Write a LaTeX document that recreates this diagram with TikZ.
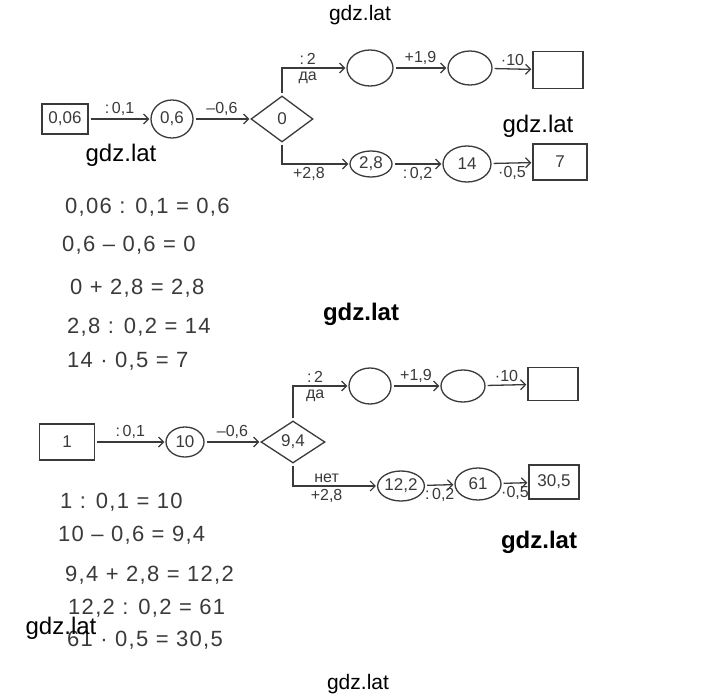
\documentclass[tikz,border=0pt]{standalone}
\usepackage{fontspec}
\setmainfont{Liberation Sans}
\usetikzlibrary{shapes.geometric,arrows.meta}
\definecolor{ink}{HTML}{3A3A3A}
\tikzset{
  ln/.style={draw=ink, line width=1.3pt},
  arr/.style={ln, -{Straight Barb[length=5pt,width=10pt,line width=1.2pt]}, shorten >=1pt, shorten <=2pt},
  boxn/.style={ln, rectangle, inner sep=0pt, text=ink, font=\fontsize{17}{17}\selectfont},
  ell/.style={ln, ellipse, inner sep=0pt, text=ink, font=\fontsize{17}{17}\selectfont},
  dia/.style={ln, diamond, inner sep=0pt, text=ink, font=\fontsize{17}{17}\selectfont},
  lab/.style={inner sep=3pt, text=ink, font=\fontsize{16}{16}\selectfont},
  calc/.style={anchor=west, inner sep=0pt, text=ink, font=\fontsize{22}{22}\selectfont\addfontfeature{LetterSpace=6}},
  wm/.style={inner sep=0pt, text=black, font=\fontsize{24}{24}\selectfont},
  wmb/.style={inner sep=0pt, text=black, font=\fontsize{24}{24}\selectfont\bfseries},
}
\begin{document}
\begin{tikzpicture}[x=1pt,y=-1pt]
\fill[white] (0,0) rectangle (720,698);
\useasboundingbox (0,0) rectangle (720,698);

% ---------- top diagram ----------
\node[boxn, minimum width=46, minimum height=30] (a0) at (65,119) {0,06};
\node[ell, minimum width=42, minimum height=38] (a1) at (172,119) {0,6};
\node[dia, minimum width=62, minimum height=46] (a2) at (282,119) {0};
\node[ell, minimum width=46, minimum height=36] (a3) at (370,68) {};
\node[ell, minimum width=44, minimum height=34] (a4) at (470,68) {};
\node[boxn, minimum width=50, minimum height=37] (a5) at (558,70) {};
\node[ell, minimum width=42, minimum height=26] (a6) at (371,164) {2,8};
\node[ell, minimum width=48, minimum height=36] (a7) at (467,164) {14};
\node[boxn, minimum width=54, minimum height=36] (a8) at (560,162) {7};

\draw[arr] (a0) -- node[lab,above] (la0) {:\,0,1} (a1);
\draw[arr] (a1) -- node[lab,above] (la1) {–0,6} (a2);
\draw[arr] (a2.north) |- node[lab,above,pos=0.7] (la2) {:\,2} node[lab,below,pos=0.7] (la2b) {да} (a3.west);
\draw[arr] (a3) -- node[lab,above] (la3) {+1,9} (a4);
\draw[arr] (a4) -- node[lab,above] (la4) {·10} (a5);
\draw[arr] (a2.south) |- node[lab,below,pos=0.7] (la5) {+2,8} (a6.west);
\draw[arr] (a6) -- node[lab,below] (la6) {:\,0,2} (a7);
\draw[arr] (a7) -- node[lab,below] (la7) {·0,5} (a8);

% ---------- top calculations ----------
\node[calc] (c1) at (65,207) {0,06 : 0,1 = 0,6};
\node[calc] (c2) at (62,245) {0,6 – 0,6 = 0};
\node[calc] (c3) at (70,288) {0 + 2,8 = 2,8};
\node[calc] (c4) at (67,327) {2,8 : 0,2 = 14};
\node[calc] (c5) at (67,361) {14 · 0,5 = 7};

% ---------- bottom diagram ----------
\node[boxn, minimum width=55, minimum height=36] (b0) at (67,442) {1};
\node[ell, minimum width=38, minimum height=30] (b1) at (185,442) {10};
\node[dia, minimum width=64, minimum height=42] (b2) at (293,442) {9,4};
\node[ell, minimum width=42, minimum height=36] (b3) at (370,386) {};
\node[ell, minimum width=44, minimum height=32] (b4) at (463,386) {};
\node[boxn, minimum width=50, minimum height=33] (b5) at (553,384) {};
\node[ell, minimum width=42, minimum height=30] (b6) at (401,486) {12,2};
\node[ell, minimum width=46, minimum height=32] (b7) at (478,484) {61};
\node[boxn, minimum width=50, minimum height=34] (b8) at (554,482) {30,5};

\draw[arr] (b0) -- node[lab,above] (lb0) {:\,0,1} (b1);
\draw[arr] (b1) -- node[lab,above] (lb1) {–0,6} (b2);
\draw[arr] (b2.north) |- node[lab,above,pos=0.7] (lb2) {:\,2} node[lab,below,pos=0.7] (lb2b) {да} (b3.west);
\draw[arr] (b3) -- node[lab,above] (lb3) {+1,9} (b4);
\draw[arr] (b4) -- node[lab,above] (lb4) {·10} (b5);
\draw[arr] (b2.south) |- node[lab,above,pos=0.7] (lb5) {нет} node[lab,below,pos=0.7] (lb5b) {+2,8} (b6.west);
\draw[arr] (b6) -- node[lab,below] (lb6) {:\,0,2} (b7);
\draw[arr] (b7) -- node[lab,below] (lb7) {·0,5} (b8);

% ---------- bottom calculations ----------
\node[calc] (d1) at (60,502) {1 : 0,1 = 10};
\node[calc] (d2) at (58,535) {10 – 0,6 = 9,4};
\node[calc] (d3) at (65,575) {9,4 + 2,8 = 12,2};
\node[calc] (d4) at (68,608) {12,2 : 0,2 = 61};
\node[calc] (d5) at (67,640) {61 · 0,5 = 30,5};

% ---------- watermarks ----------
\node[wm, font=\fontsize{21}{21}\selectfont] (w1) at (360,15) {gdz.lat};
\node[wm] (w2) at (538,126) {gdz.lat};
\node[wm] (w3) at (121,155) {gdz.lat};
\node[wmb] (w4) at (361,314) {gdz.lat};
\node[wmb] (w5) at (539,542) {gdz.lat};
\node[wm] (w6) at (61,628) {gdz.lat};
\node[wm, font=\fontsize{21}{21}\selectfont] (w7) at (358,684) {gdz.lat};
\end{tikzpicture}
\end{document}
